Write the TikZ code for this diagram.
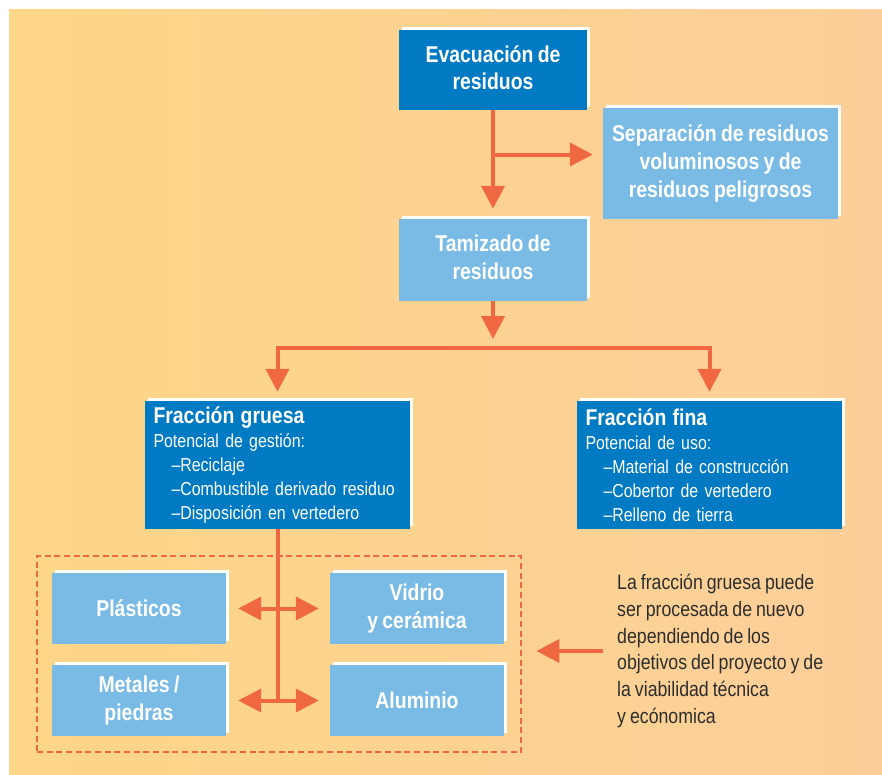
\documentclass[tikz,border=0pt]{standalone}
\usepackage{fontspec}
\setmainfont{Liberation Sans}[FakeStretch=0.85,WordSpace=0.8]
\usetikzlibrary{arrows.meta,shadows}
\definecolor{resD}{RGB}{0,122,194}
\definecolor{resL}{RGB}{122,187,230}
\definecolor{resO}{RGB}{240,104,66}
\definecolor{bgL}{RGB}{253,214,135}
\definecolor{bgR}{RGB}{252,207,154}
\definecolor{resT}{RGB}{45,45,45}
\newcommand{\pxu}{0.03cm}
\newcommand{\dashitem}{\hspace*{0.54cm}–}

\begin{document}
\begin{tikzpicture}[x=0.03cm,y=-0.03cm,
  rbox/.style={align=center,text=white,inner sep=0pt,
    font=\bfseries\fontsize{19.5}{23.8}\selectfont,
    general shadow={fill=white,shadow xshift=3*\pxu,shadow yshift=3*\pxu}},
  dbox/.style={rbox,fill=resD},
  lbox/.style={rbox,fill=resL},
  fbox/.style={dbox,align=left,text width=248*\pxu,minimum width=265*\pxu,minimum height=128*\pxu,
    font=\fontsize{16}{20.4}\selectfont},
  sbox/.style={lbox,minimum width=174*\pxu,minimum height=71*\pxu},
  tip/.tip={Triangle[length=23*\pxu,width=23*\pxu]},
  ln/.style={resO,line width=4*\pxu},
  arr/.style={ln,-tip},
  dbl/.style={ln,tip-tip,shorten <=12*\pxu,shorten >=11*\pxu}]
\useasboundingbox (0,0) rectangle (882,775);
\shade[left color=bgL,right color=bgR] (9,9) rectangle (882,775);

\node[dbox,minimum width=188*\pxu,minimum height=80*\pxu] (evac) at (493,70) {Evacuación de\\residuos\vphantom{g}};
\node[lbox,minimum width=235*\pxu,minimum height=111*\pxu] (sepa) at (720.5,163.5) {Separación de residuos\\voluminosos y de\\residuos peligrosos};
\node[lbox,minimum width=188*\pxu,minimum height=82*\pxu] (tamiz) at (493,260) {Tamizado de\\residuos\vphantom{g}};

\node[fbox] (gruesa) at (277.5,465) {{\bfseries\fontsize{19.5}{20.4}\selectfont Fracción gruesa}\\
  Potencial de gestión:\\
  \dashitem Reciclaje\\
  \dashitem Combustible derivado residuo\\
  \dashitem Disposición en vertedero};
\node[fbox] (fina) at (709.5,465) {{\bfseries\fontsize{19.5}{20.4}\selectfont Fracción fina}\\
  Potencial de uso:\\
  \dashitem Material de construcción\\
  \dashitem Cobertor de vertedero\\
  \dashitem Relleno de tierra};

\node[draw=resO,line width=2.8*\pxu,dash pattern=on 0.18cm off 0.11cm,minimum width=484*\pxu,minimum height=196*\pxu] (grupo) at (279,654) {};
\node[sbox] (plast) at (139,608.5) {Plásticos};
\node[sbox] (vidrio) at (417,608.5) {Vidrio\\y cerámica};
\node[sbox] (metal) at (139,700.5) {Metales /\\piedras};
\node[sbox] (alum) at (417,700.5) {Aluminio};

\node[anchor=west,align=left,text=resT,inner sep=0pt,font=\fontsize{17.8}{23}\selectfont] (nota) at (617,651)
  {La fracción gruesa puede\\ser procesada de nuevo\\dependiendo de los\\objetivos del proyecto y de\\la viabilidad técnica\\y ecónomica};

\coordinate (brk) at ([yshift=9*\pxu]evac.south |- sepa.west);
\coordinate (split) at (493,348);
\draw[arr,shorten >=10*\pxu] (evac.south) -- (tamiz.north);
\draw[arr,shorten >=10*\pxu] (brk) -- (brk -| sepa.west);
\draw[arr,shorten >=9*\pxu] (tamiz.south) -- (split);
\draw[arr,shorten >=9*\pxu] (split) -| (gruesa.north);
\draw[arr,shorten >=9*\pxu] (split) -| (fina.north);
\draw[ln] (gruesa.south) -- (gruesa.south |- metal.east);
\draw[dbl] (plast.east) -- (vidrio.west);
\draw[dbl] (metal.east) -- (alum.west);
\draw[arr,shorten <=14*\pxu,shorten >=14*\pxu] (nota.west) -- (nota.west -| grupo.east);
\end{tikzpicture}
\end{document}
